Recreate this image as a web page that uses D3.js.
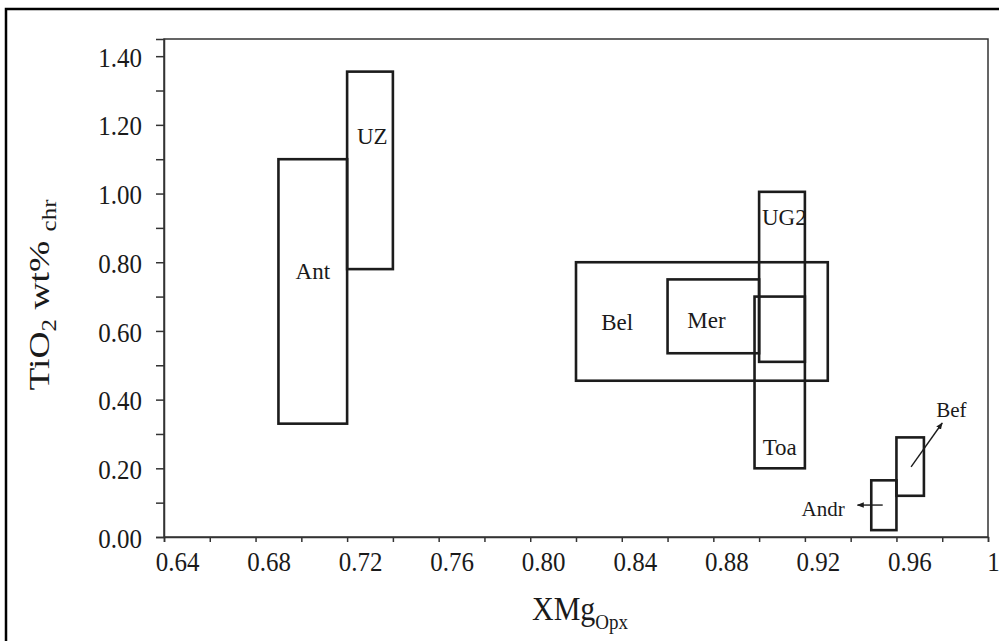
<!DOCTYPE html>
<html>
<head>
<meta charset="utf-8">
<script src="https://cdn.jsdelivr.net/npm/d3@7"></script>
<style>
  html, body { margin: 0; padding: 0; background: #fff; }
  svg { display: block; }
  text { font-family: "Liberation Serif", "Times New Roman", serif !important; fill: #1a1a1a; }
</style>
</head>
<body>
<svg id="chart" width="999" height="641"></svg>
<script>
// ---- data ----
const fields = ["Ant", "UZ", "Bel", "Mer", "UG2", "Toa", "Andr", "Bef"];
const xMin = [0.69, 0.72, 0.82, 0.86, 0.90, 0.898, 0.949, 0.96];
const xMax = [0.72, 0.74, 0.93, 0.90, 0.92, 0.92, 0.96, 0.972];
const yMin = [0.33, 0.78, 0.455, 0.535, 0.51, 0.20, 0.02, 0.12];
const yMax = [1.10, 1.355, 0.80, 0.75, 1.005, 0.70, 0.165, 0.29];
const labelX = [0.705, 0.731, 0.838, 0.877, 0.911, 0.909, 0.928, 0.984];
const labelY = [0.775, 1.168, 0.626, 0.632, 0.932, 0.262, 0.084, 0.37];
// arrows (Bef, Andr)
const arrowFromX = [0.9664, 0.954];
const arrowFromY = [0.204, 0.093];
const arrowToX = [0.980, 0.943];
const arrowToY = [0.332, 0.093];

const xTickValues = [0.64, 0.66, 0.68, 0.70, 0.72, 0.74, 0.76, 0.78, 0.80, 0.82, 0.84, 0.86, 0.88, 0.90, 0.92, 0.94, 0.96, 0.98, 1.00];
const xTickLabels = ["0.64", "0.68", "0.72", "0.76", "0.80", "0.84", "0.88", "0.92", "0.96", "1"];
const yTickValues = [0, 0.1, 0.2, 0.3, 0.4, 0.5, 0.6, 0.7, 0.8, 0.9, 1.0, 1.1, 1.2, 1.3, 1.4];
const yTickLabels = ["0.00", "0.20", "0.40", "0.60", "0.80", "1.00", "1.20", "1.40"];

const xTitle = "XMg";
const xTitleSub = "Opx";

// ---- layout ----
const FONT = '"Liberation Serif", "Times New Roman", serif';
const svg = d3.select("#chart");
const L = 164, R = 988, T = 39, B = 537;
const x = d3.scaleLinear().domain([0.64, 1.00]).range([L, R]);
const y = d3.scaleLinear().domain([0, 1.45]).range([B, T]);

// outer frame
svg.append("rect").attr("x", 6).attr("y", 9).attr("width", 1010).attr("height", 660)
  .attr("fill", "none").attr("stroke", "#000").attr("stroke-width", 2.5);

// plot area
svg.append("rect").attr("x", L).attr("y", T).attr("width", R - L).attr("height", B - T)
  .attr("fill", "none").attr("stroke", "#333").attr("stroke-width", 1.5);

// y axis
const yAxis = d3.axisLeft(y).tickValues(yTickValues).tickSize(8).tickFormat(d => {
  const i = Math.round(d * 10);
  return i % 2 === 0 ? yTickLabels[i / 2] : "";
});
const gy = svg.append("g").attr("transform", `translate(${L},0)`).call(yAxis);
gy.attr("font-family", null);
gy.select(".domain").attr("stroke", "#333").attr("stroke-width", 1.5);
gy.selectAll(".tick line").attr("stroke", "#333").attr("stroke-width", 1.5);
gy.selectAll(".tick text").style("font-family", FONT).style("font-size", "25px")
  .attr("x", -22).attr("dy", "0.36em").attr("fill", "#1a1a1a")
  .attr("transform", "scale(1,1.12)");

// x axis
const xAxis = d3.axisBottom(x).tickValues(xTickValues).tickSize(5).tickFormat(d => {
  const i = Math.round((d - 0.64) * 50);
  return i % 2 === 0 ? xTickLabels[i / 2] : "";
});
const gx = svg.append("g").attr("transform", `translate(0,${B})`).call(xAxis);
gx.attr("font-family", null);
gx.select(".domain").attr("stroke", "#333").attr("stroke-width", 1.5);
gx.selectAll(".tick line").attr("stroke", "#333").attr("stroke-width", 1.5);
gx.selectAll(".tick text").style("font-family", FONT).style("font-size", "25px")
  .attr("y", 30).attr("dy", 0)
  .attr("dx", d => (d === 1 ? 5 : 13)).attr("fill", "#1a1a1a")
  .attr("transform", "scale(1,1.12)");

// boxes
const idx = d3.range(fields.length);
svg.append("g").selectAll("rect").data(idx).join("rect")
  .attr("x", i => x(xMin[i]))
  .attr("y", i => y(yMax[i]))
  .attr("width", i => x(xMax[i]) - x(xMin[i]))
  .attr("height", i => y(yMin[i]) - y(yMax[i]))
  .attr("fill", "none").attr("stroke", "#1c1c1c").attr("stroke-width", 2.6);

// labels
svg.append("g").selectAll("text").data(idx).join("text")
  .attr("x", i => x(labelX[i]))
  .attr("y", i => y(labelY[i]))
  .attr("dy", "0.35em")
  .attr("text-anchor", "middle")
  .style("font-family", FONT)
  .style("font-size", i => (fields[i] === "Andr" || fields[i] === "Bef") ? "21px" : "23px")
  .text(i => fields[i]);

// arrows
const defs = svg.append("defs");
defs.append("marker").attr("id", "ah").attr("viewBox", "0 0 10 10")
  .attr("refX", 9).attr("refY", 5).attr("markerWidth", 7).attr("markerHeight", 7)
  .attr("orient", "auto").attr("markerUnits", "userSpaceOnUse")
  .append("path").attr("d", "M0,1 L10,5 L0,9 Z").attr("fill", "#1c1c1c");
svg.append("g").selectAll("line").data(d3.range(arrowFromX.length)).join("line")
  .attr("x1", i => x(arrowFromX[i])).attr("y1", i => y(arrowFromY[i]))
  .attr("x2", i => x(arrowToX[i])).attr("y2", i => y(arrowToY[i]))
  .attr("stroke", "#1c1c1c").attr("stroke-width", 1.4)
  .attr("marker-end", "url(#ah)");

// axis titles
const xt = svg.append("text").attr("x", 532).attr("y", 618).style("font-family", FONT).style("font-size", "30px")
  .attr("transform", "translate(0,-60) scale(1,1.1)");
xt.append("tspan").text(xTitle);
xt.append("tspan").style("font-size", "19px").attr("dy", 8).text(xTitleSub);

const yt = svg.append("text").attr("text-anchor", "middle")
  .attr("transform", "translate(49,295) rotate(-90) scale(1.25,1)")
  .style("font-family", FONT).style("font-size", "30px");
yt.append("tspan").text("TiO");
yt.append("tspan").style("font-size", "20px").attr("dy", 7).text("2");
yt.append("tspan").attr("dy", -7).text(" wt% ");
yt.append("tspan").style("font-size", "20px").attr("dy", 7).text("chr");
</script>
</body>
</html>
